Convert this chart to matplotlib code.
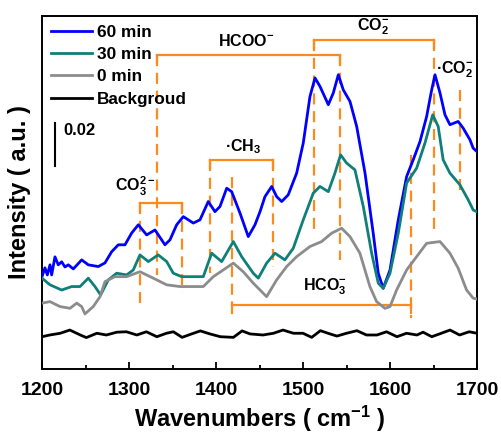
import matplotlib
matplotlib.use("Agg")
import matplotlib.pyplot as plt

plt.rcParams['font.family'] = ['Liberation Sans', 'DejaVu Sans']
plt.rcParams['font.weight'] = 'bold'
plt.rcParams['mathtext.fontset'] = 'custom'
plt.rcParams['mathtext.rm'] = 'Liberation Sans:bold'
plt.rcParams['mathtext.it'] = 'Liberation Sans:bold'
plt.rcParams['mathtext.bf'] = 'Liberation Sans:bold'
plt.rcParams['mathtext.default'] = 'rm'

# ---------------- data ----------------
wn_60 = [1200, 1203.4, 1206.1, 1209.2, 1211.1, 1214.9, 1218.7, 1222.6, 1226.4, 1230.2, 1236, 1245.6,
         1253.2, 1264.7, 1272.4, 1280.1, 1287.7, 1295.4, 1303.1, 1310.7, 1320.3, 1329.9, 1341.3,
         1347.1, 1354.8, 1362.4, 1373.9, 1381.6, 1391.1, 1398.8, 1404.6, 1412.3, 1418, 1427.6,
         1437.1, 1444.8, 1450.6, 1456.3, 1464, 1469.7, 1475.5, 1483, 1492.7, 1500.3, 1508, 1513.8,
         1519.5, 1529.1, 1534.8, 1540.6, 1546.3, 1554, 1561.7, 1571.3, 1580.7, 1586.5, 1592.2, 1600,
         1609.5, 1619.1, 1626.7, 1634.5, 1642.1, 1647.9, 1651.7, 1657.5, 1663.2, 1668.9, 1678.4,
         1684.1, 1691.9, 1695.6, 1700]
int_60 = [0.0429, 0.0470, 0.0437, 0.0484, 0.0437, 0.0521, 0.0484, 0.0498, 0.0474, 0.0484, 0.0465,
          0.0507, 0.0484, 0.0476, 0.0493, 0.0545, 0.0577, 0.0577, 0.0632, 0.0670, 0.0623, 0.0646,
          0.0577, 0.0600, 0.0670, 0.0708, 0.0678, 0.0693, 0.0778, 0.0731, 0.0755, 0.0840, 0.0824,
          0.0724, 0.0615, 0.0670, 0.0731, 0.0801, 0.0848, 0.0801, 0.0778, 0.0809, 0.0910, 0.1050,
          0.1266, 0.1352, 0.1313, 0.1228, 0.1282, 0.1367, 0.1297, 0.1243, 0.1127, 0.0910, 0.0631,
          0.0445, 0.0375, 0.0460, 0.0693, 0.0894, 0.0972, 0.1057, 0.1173, 0.1297, 0.1367, 0.1282,
          0.1181, 0.1135, 0.1150, 0.1119, 0.1065, 0.1026, 0.1010]

wn_30 = [1200, 1209.2, 1222.6, 1234.1, 1243.7, 1253.2, 1260.9, 1267.4, 1276.2, 1285.8, 1297.3,
         1304.9, 1312.6, 1322.2, 1333.6, 1343.3, 1350.9, 1360.5, 1373.9, 1385.4, 1395, 1406.5,
         1419.9, 1429.5, 1442.8, 1448.6, 1458.2, 1467.8, 1479.2, 1488.8, 1500.3, 1511.8, 1519.5,
         1529.1, 1536.7, 1543.2, 1550.1, 1559.7, 1569.3, 1578.9, 1586.5, 1592.2, 1600, 1609.5,
         1619.1, 1630.6, 1640.2, 1649.1, 1655.4, 1661.1, 1668.9, 1680.3, 1689.9, 1695.6, 1700]
int_30 = [0.0422, 0.0391, 0.0367, 0.0383, 0.0383, 0.0422, 0.0383, 0.0344, 0.0414, 0.0445, 0.0437,
          0.0460, 0.0530, 0.0499, 0.0530, 0.0499, 0.0445, 0.0429, 0.0429, 0.0429, 0.0538, 0.0499,
          0.0592, 0.0522, 0.0445, 0.0422, 0.0492, 0.0538, 0.0507, 0.0561, 0.0693, 0.0817, 0.0848,
          0.0824, 0.0910, 0.0995, 0.0957, 0.0925, 0.0755, 0.0538, 0.0399, 0.0375, 0.0445, 0.0631,
          0.0864, 0.0933, 0.1050, 0.1181, 0.1127, 0.0972, 0.0910, 0.0856, 0.0786, 0.0739, 0.0730]

wn_0 = [1200, 1209.2, 1220.7, 1232.2, 1239.9, 1245.6, 1249.4, 1258.9, 1266.7, 1272.4, 1283.9,
        1297.3, 1312.6, 1327.9, 1343.3, 1358.6, 1385.4, 1396.9, 1408.3, 1419.9, 1431.3, 1442.8,
        1458.2, 1469.7, 1481.2, 1492.7, 1508, 1521.4, 1532.9, 1544.4, 1554, 1565.4, 1576.9,
        1584.6, 1594.1, 1600, 1607.6, 1619.1, 1630.6, 1642.1, 1657.5, 1668.9, 1678.4, 1688,
        1695.6, 1700]
int_0 = [0.0306, 0.0313, 0.0290, 0.0282, 0.0306, 0.0290, 0.0256, 0.0290, 0.0336, 0.0406, 0.0429,
         0.0429, 0.0452, 0.0422, 0.0391, 0.0383, 0.0383, 0.0429, 0.0460, 0.0492, 0.0452, 0.0399,
         0.0336, 0.0414, 0.0476, 0.0522, 0.0569, 0.0592, 0.0631, 0.0654, 0.0615, 0.0538, 0.0383,
         0.0313, 0.0282, 0.0290, 0.0367, 0.0460, 0.0522, 0.0584, 0.0592, 0.0538, 0.0468, 0.0367,
         0.0329, 0.0325]

wn_bg = [1200, 1209, 1221, 1232, 1244, 1251, 1263, 1274, 1286, 1297, 1309, 1320, 1332, 1343, 1351,
         1361, 1372, 1382, 1393, 1405, 1420, 1430, 1439, 1454, 1466, 1477, 1489, 1500, 1510, 1520,
         1531, 1539, 1550, 1562, 1573, 1585, 1596, 1608, 1619, 1631, 1638, 1648, 1659, 1669, 1680,
         1691, 1700]
int_bg = [0.0150, 0.0158, 0.0166, 0.0181, 0.0158, 0.0146, 0.0166, 0.0158, 0.0171, 0.0173, 0.0158,
          0.0173, 0.0150, 0.0166, 0.0173, 0.0147, 0.0163, 0.0177, 0.0163, 0.0150, 0.0147, 0.0177,
          0.0163, 0.0158, 0.0166, 0.0181, 0.0166, 0.0166, 0.0147, 0.0178, 0.0163, 0.0153, 0.0166,
          0.0178, 0.0158, 0.0158, 0.0173, 0.0150, 0.0166, 0.0158, 0.0171, 0.0150, 0.0166, 0.0181,
          0.0158, 0.0173, 0.0166]

series_labels = ['60 min', '30 min', '0 min', 'Backgroud']
series_colors = ['#0000FF', '#0E7F7A', '#8C8C8C', '#000000']

xticks = [1200, 1300, 1400, 1500, 1600, 1700]

# peak assignment guides: (wavenumber, y_top, y_bottom)
guide_lines = [(1312.6, 0.0772, 0.0288), (1332.2, 0.1460, 0.0437), (1361.0, 0.0772, 0.0358),
               (1393.0, 0.0972, 0.0446), (1418.4, 0.0893, 0.0298), (1465.5, 0.0972, 0.0474),
               (1512.6, 0.1530, 0.0646), (1542.5, 0.1460, 0.0507), (1624.0, 0.0995, 0.0237),
               (1650.6, 0.1530, 0.0632), (1680.5, 0.1297, 0.0818)]
# brackets: (x_left, x_right, y)
brackets = [(1312.6, 1361.0, 0.0772), (1332.2, 1542.5, 0.1460), (1512.6, 1650.6, 0.1530),
            (1393.0, 1465.5, 0.0972), (1418.4, 1624.0, 0.0298)]
labels_txt = [(1307, 0.0850, r'CO$_3^{2-}$', 'center'), (1435, 0.1525, r'HCOO$^{-}$', 'center'),
              (1581, 0.1590, r'CO$_2^{-}$', 'center'), (1431, 0.1035, '·CH$_3$', 'center'),
              (1525, 0.0380, r'HCO$_3^{-}$', 'center'), (1653, 0.1390, '·CO$_2^{-}$', 'left')]

# ---------------- plot ----------------
fig = plt.figure(figsize=(5.01, 4.36), dpi=100)
ax = fig.add_axes([42/501, 67/436, 435/501, 353/436])

orange = '#FF8A1C'
for x, yt, yb in guide_lines:
    ax.plot([x, x], [yt, yb], color=orange, lw=1.6, ls=(0, (5, 3)), zorder=1)
for xl, xr, y in brackets:
    ax.plot([xl, xr], [y, y], color=orange, lw=1.6, zorder=1)
    for xx in (xl, xr):
        ax.plot([xx, xx], [y, y - 0.004], color=orange, lw=1.6, zorder=1)

datasets = [(wn_60, int_60), (wn_30, int_30), (wn_0, int_0), (wn_bg, int_bg)]
for (x, y), lab, c in zip(datasets, series_labels, series_colors):
    ax.plot(x, y, color=c, lw=2.0, label=lab, solid_joinstyle='round', zorder=3)

for x, y, s, ha in labels_txt:
    ax.text(x, y, s, ha=ha, va='center', fontsize=11.5, fontweight='bold')

# scale bar
ax.plot([1215, 1215], [0.0944, 0.1144], color='black', lw=1.5)
ax.text(1225, 0.1110, '0.02', fontsize=12, fontweight='bold', va='center', ha='left')

ax.set_xlim(1200, 1700)
ax.set_ylim(0, 0.164)
ax.set_xticks(xticks)
ax.set_xticks(range(1250, 1700, 100), minor=True)
ax.set_yticks([])
ax.tick_params(axis='x', which='major', direction='in', length=5, width=1.3, labelsize=14, pad=9)
ax.tick_params(axis='x', which='minor', direction='in', length=3, width=1.3)
for lbl in ax.get_xticklabels():
    lbl.set_fontweight('bold')
for sp in ax.spines.values():
    sp.set_linewidth(1.4)

ax.set_xlabel(r'Wavenumbers ( cm$^{-1}$ )', fontsize=17, fontweight='bold', labelpad=4)
ax.set_ylabel('Intensity ( a.u. )', fontsize=17, fontweight='bold', labelpad=8)

leg = ax.legend(loc='upper left', bbox_to_anchor=(0.0, 1.0), frameon=False,
                prop={'size': 12.4, 'weight': 'bold'}, handlelength=2.4, handletextpad=0.3,
                labelspacing=0.42, borderaxespad=0.3, borderpad=0.2)

fig.savefig('out.png', dpi=100)
